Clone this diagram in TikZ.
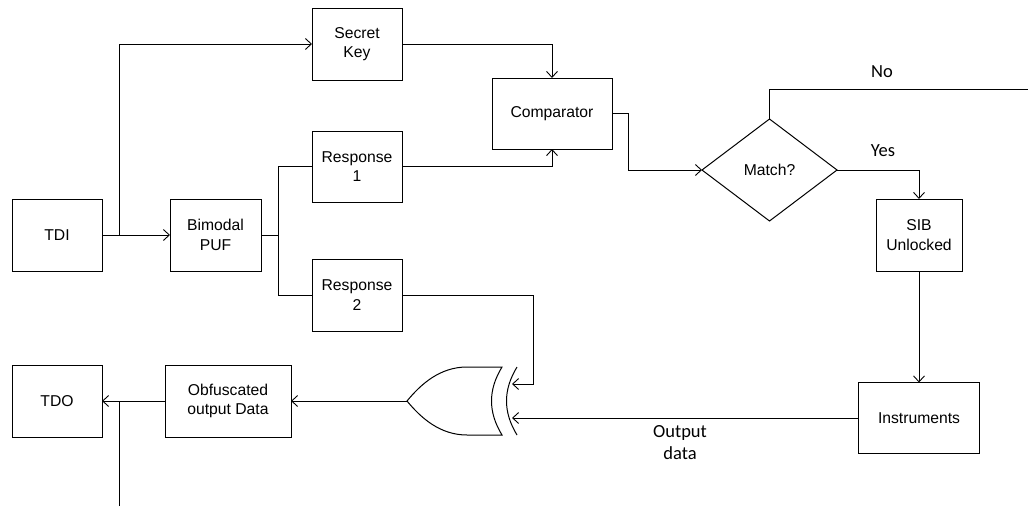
\documentclass[tikz,border=0pt]{standalone}
\usepackage{fontspec}
\setmainfont{Liberation Sans}
\newfontfamily\labelfont{Carlito}
\usetikzlibrary{arrows.meta,shapes.geometric}

\tikzset{
  blk/.style={draw, line width=1pt, inner sep=0pt, outer sep=0pt, align=center,
              font=\fontsize{15.7}{19.5}\selectfont},
  wire/.style={line width=1pt},
  arr/.style={wire, -{Straight Barb[length=6pt,width=11pt,line width=0.9pt]}},
  lbl/.style={font=\labelfont\fontsize{18.5}{22}\selectfont, align=center, inner sep=0pt}
}

\begin{document}
\begin{tikzpicture}[x=1pt,y=-1pt]
  \useasboundingbox (0,0) rectangle (1028,506);

  % blocks
  \node[blk, minimum width=90pt,  minimum height=72pt] (tdi)  at (57,235)    {TDI};
  \node[blk, minimum width=91pt,  minimum height=72pt] (puf)  at (215.5,235) {Bimodal\\PUF};
  \node[blk, minimum width=90pt,  minimum height=72pt] (key)  at (357,44)    {Secret\\Key};
  \node[blk, minimum width=90pt,  minimum height=71pt] (r1)   at (357,166.5) {Response\\1};
  \node[blk, minimum width=90pt,  minimum height=72pt] (r2)   at (357,295)   {Response\\2};
  \node[blk, minimum width=120pt, minimum height=71pt] (cmp)  at (552,113.5) {Comparator};
  \node[blk, shape=diamond, minimum width=135pt, minimum height=102pt] (match) at (769.5,170) {Match?};
  \node[blk, minimum width=86pt,  minimum height=72pt] (sib)  at (919,235)   {SIB\\Unlocked};
  \node[blk, minimum width=121pt, minimum height=71pt] (inst) at (919,418)   {Instruments};
  \node[blk, minimum width=90pt,  minimum height=72pt] (tdo)  at (57,401)    {TDO};
  \node[blk, minimum width=126pt, minimum height=72pt] (obf)  at (228,401)   {Obfuscated\\output Data};

  % XOR gate
  \draw[line width=1pt]
    (502,367) -- (467,367) .. controls (440,367) and (421,384) .. (407,401)
    .. controls (421,418) and (440,435) .. (467,435) -- (502,435)
    .. controls (488,412) and (488,390) .. cycle;
  \draw[line width=1pt] (517,367) .. controls (503,390) and (503,412) .. (517,435);
  \coordinate (xin1) at (512,384);
  \coordinate (xin2) at (512,418);
  \coordinate (xout) at (407,401);

  % junctions and free ends
  \coordinate (j1)  at (119,235);
  \coordinate (j2)  at (278,235);
  \coordinate (j3)  at (119,401);
  \coordinate (tap) at (119,506);
  \coordinate (noend) at (1028,89);

  % input side
  \draw[arr] (tdi.east) -- (puf.west);
  \draw[arr] (j1) |- (key.west);
  \draw[wire] (puf.east) -- (j2);
  \draw[wire] (j2) |- (r1.west);
  \draw[wire] (j2) |- (r2.west);

  % comparison
  \draw[arr] (key.east) -| (cmp.north);
  \draw[arr] (r1.east) -| (cmp.south);
  \draw[arr] (cmp.east) -- ++(16,0) |- (match.west);
  \draw[wire] (match.north) |- (noend);
  \draw[arr] (match.east) -| (sib.north);
  \draw[arr] (sib.south) -- (inst.north);

  % output side
  \draw[arr] (r2.east) -- (533,295) |- (xin1);
  \draw[arr] (inst.west) -- (xin2);
  \draw[arr] (xout) -- (obf.east);
  \draw[arr] (obf.west) -- (tdo.east);
  \draw[wire] (tap) -- (j3);

  % labels
  \node[lbl] at (882,72)  {No};
  \node[lbl] at (883,151) {Yes};
  \node[lbl] at (680,443) {Output\\data};
\end{tikzpicture}
\end{document}
